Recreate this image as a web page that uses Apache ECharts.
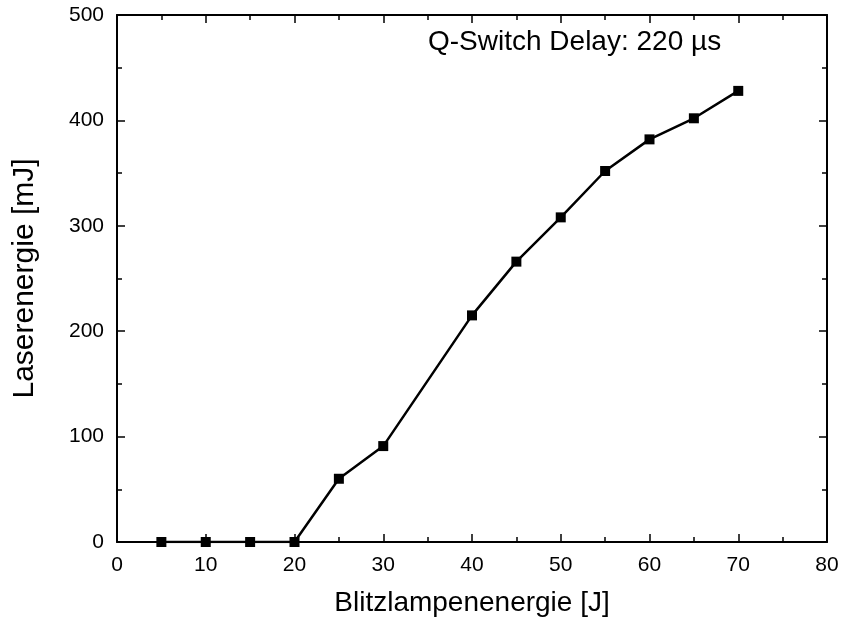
<!DOCTYPE html>
<html><head><meta charset="utf-8">
<script src="https://cdn.jsdelivr.net/npm/echarts@6/dist/echarts.min.js"></script>
<style>html,body{margin:0;padding:0;background:#fff}#c{width:845px;height:622px}</style>
</head><body><div id="c"></div>
<script>
const xValues = [5, 10, 15, 20, 25, 30, 40, 45, 50, 55, 60, 65, 70];
const yValues = [0, 0, 0, 0, 60, 91, 215, 266, 308, 352, 382, 402, 428];
const xTitle = 'Blitzlampenenergie [J]';
const yTitle = 'Laserenergie [mJ]';
const annotation = 'Q-Switch Delay: 220 µs';

const font = 'Liberation Sans, Arial, Helvetica, sans-serif';
const chart = echarts.init(document.getElementById('c'));
const axLine = {show: true, onZero: false, lineStyle: {color: '#000', width: 2}};
const tick = {show: true, inside: true, length: 8, lineStyle: {color: '#000', width: 1.5}};
const minor = {show: true, splitNumber: 2, length: 5, lineStyle: {color: '#000', width: 1.5}};
chart.setOption({
  animation: false,
  backgroundColor: '#fff',
  grid: {left: 117, right: 18, top: 15, bottom: 78},
  xAxis: [{
    type: 'value', min: 0, max: 80, interval: 10, position: 'bottom',
    axisLine: axLine, axisTick: tick, minorTick: minor, splitLine: {show: false},
    axisLabel: {color: '#000', fontSize: 21, fontFamily: font, margin: 13},
    name: xTitle, nameLocation: 'middle', nameGap: 47,
    nameTextStyle: {color: '#000', fontSize: 28, fontFamily: font}
  }, {
    type: 'value', min: 0, max: 80, interval: 10, position: 'top',
    axisLine: axLine, axisTick: tick, minorTick: minor, splitLine: {show: false},
    axisLabel: {show: false}
  }],
  yAxis: [{
    type: 'value', min: 0, max: 500, interval: 100, position: 'left',
    axisLine: axLine, axisTick: tick, minorTick: minor, splitLine: {show: false},
    axisLabel: {color: '#000', fontSize: 21, fontFamily: font, margin: 13},
    name: yTitle, nameLocation: 'middle', nameGap: 77, nameRotate: 90,
    nameTextStyle: {color: '#000', fontSize: 30, fontFamily: font}
  }, {
    type: 'value', min: 0, max: 500, interval: 100, position: 'right',
    axisLine: axLine, axisTick: tick, minorTick: minor, splitLine: {show: false},
    axisLabel: {show: false}
  }],
  graphic: [{
    type: 'text', left: 428, top: 28,
    style: {text: annotation, fill: '#000', font: '28px ' + font}
  }],
  series: [{
    type: 'line',
    data: xValues.map((x, i) => [x, yValues[i]]),
    symbol: 'rect', symbolSize: 10,
    itemStyle: {color: '#000'},
    lineStyle: {color: '#000', width: 2.5}
  }]
});
</script></body></html>
